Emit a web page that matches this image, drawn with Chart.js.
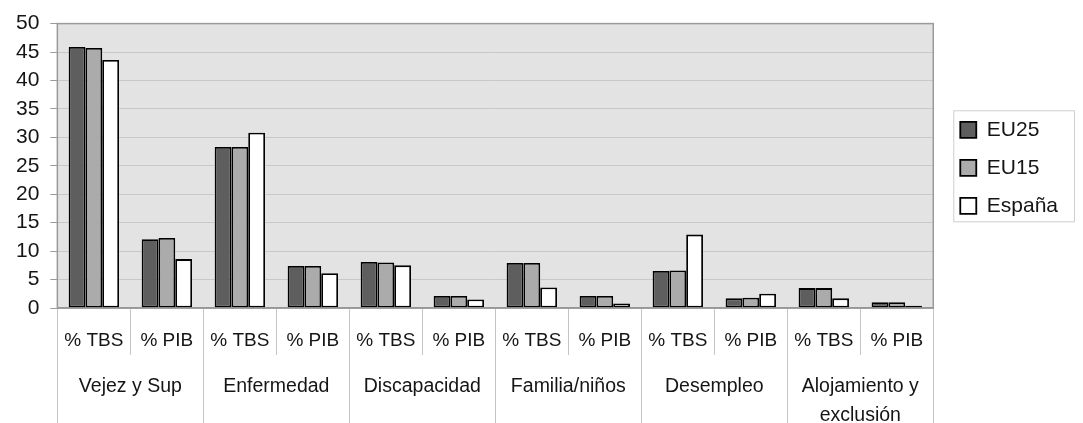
<!DOCTYPE html>
<html>
<head>
<meta charset="utf-8">
<script src="https://cdn.jsdelivr.net/npm/chart.js@4.4.1/dist/chart.umd.min.js"></script>
<style>
    html, body { margin: 0; padding: 0; background: #fff; }
    #wrap { width: 1083px; height: 423px; }
</style>
</head>
<body>
<div id="wrap"><canvas id="gastoChart"></canvas></div>
<script>
// Datos
var subLabels = ['% TBS', '% PIB', '% TBS', '% PIB', '% TBS', '% PIB',
                 '% TBS', '% PIB', '% TBS', '% PIB', '% TBS', '% PIB'];
var groupLabels = ['Vejez y Sup', 'Enfermedad', 'Discapacidad', 'Familia/niños',
                   'Desempleo', ['Alojamiento y', 'exclusión']];
var eu25   = [45.9, 12.1, 28.3, 7.4, 8.1, 2.1, 7.9, 2.1, 6.5, 1.7, 3.5, 1.0];
var eu15   = [45.7, 12.3, 28.3, 7.4, 8.0, 2.1, 7.9, 2.1, 6.6, 1.8, 3.5, 1.0];
var espana = [43.6, 8.6, 30.8, 6.1, 7.5, 1.5, 3.6, 0.8, 12.9, 2.5, 1.7, 0.4];
var yMin = 0, yMax = 50, yStep = 5;

var fontFamily = "'Liberation Sans', Arial, sans-serif";
var textColor = '#151515';

// fondo gris y borde del área del gráfico, marco de la leyenda
var plotFrame = {
    id: 'plotFrame',
    beforeDraw: function (chart) {
        var a = chart.chartArea, ctx = chart.ctx;
        ctx.save();
        ctx.fillStyle = '#e3e3e3';
        ctx.fillRect(a.left, a.top, a.right - a.left, a.bottom - a.top);
        ctx.restore();
    },
    afterLayout: function (chart) {
        // mover la leyenda un poco a la derecha y abajo
        var lg = chart.legend;
        lg.left += 10; lg.right += 10;
        lg.top += 2; lg.bottom += 2;
    },
    afterDraw: function (chart) {
        var a = chart.chartArea, ctx = chart.ctx;
        ctx.save();
        ctx.strokeStyle = '#9a9a9a';
        ctx.lineWidth = 1.5;
        ctx.strokeRect(a.left, a.top, a.right - a.left, a.bottom - a.top);
        var boxes = chart.legend.legendHitBoxes;
        if (boxes && boxes.length) {
            var first = boxes[0], last = boxes[boxes.length - 1];
            var x0 = first.left - 7, y0 = first.top - 9;
            var y1 = last.top + last.height + 5;
            ctx.strokeStyle = '#cfcfcf';
            ctx.lineWidth = 1;
            ctx.strokeRect(x0 + 0.5, y0 + 0.5, 1074 - x0, y1 - y0);
        }
        ctx.restore();
    }
};

var ctx = document.getElementById('gastoChart').getContext('2d');
var chart = new Chart(ctx, {
    type: 'bar',
    data: {
        labels: subLabels,
        datasets: [
            {
                label: 'EU25',
                data: eu25,
                backgroundColor: '#5e5e5e',
                borderColor: '#000',
                borderWidth: 1.8,
                borderSkipped: false
            },
            {
                label: 'EU15',
                data: eu15,
                backgroundColor: '#ababab',
                borderColor: '#000',
                borderWidth: 1.8,
                borderSkipped: false
            },
            {
                label: 'España',
                data: espana,
                backgroundColor: '#ffffff',
                borderColor: '#000',
                borderWidth: 1.8,
                borderSkipped: false
            }
        ]
    },
    options: {
        responsive: true,
        maintainAspectRatio: false,
        animation: false,
        categoryPercentage: 0.69,
        barPercentage: 1.0,
        layout: {
            padding: { left: 5, top: 22, right: 25, bottom: 0 }
        },
        plugins: {
            tooltip: { enabled: false },
            legend: {
                position: 'right',
                align: 'center',
                fullSize: false,
                labels: {
                    boxWidth: 16,
                    boxHeight: 16,
                    padding: 17,
                    color: textColor,
                    font: { family: fontFamily, size: 21 }
                }
            }
        },
        scales: {
            y: {
                min: yMin,
                max: yMax,
                ticks: {
                    stepSize: yStep,
                    padding: 11,
                    color: textColor,
                    font: { family: fontFamily, size: 21 }
                },
                grid: {
                    color: '#c8c8c8',
                    tickColor: '#9a9a9a',
                    tickLength: 7
                },
                border: { display: false }
            },
            x: {
                offset: true,
                ticks: {
                    padding: -26,
                    color: textColor,
                    font: { family: fontFamily, size: 19, lineHeight: 1.2 }
                },
                grid: {
                    offset: true,
                    drawOnChartArea: false,
                    color: '#c4c4c4',
                    tickLength: 47
                },
                border: { display: true, color: '#8a8a8a', width: 1.5 },
                afterFit: function (scale) { scale.height = 47; }
            },
            x2: {
                type: 'category',
                position: 'bottom',
                labels: groupLabels,
                offset: true,
                ticks: {
                    padding: -51,
                    color: textColor,
                    font: { family: fontFamily, size: 19.5, lineHeight: 1.48 }
                },
                grid: {
                    offset: true,
                    drawOnChartArea: false,
                    color: '#c4c4c4',
                    tickLength: 68
                },
                border: { display: false },
                afterFit: function (scale) { scale.height = 68; }
            }
        }
    },
    plugins: [plotFrame]
});
</script>
</body>
</html>
